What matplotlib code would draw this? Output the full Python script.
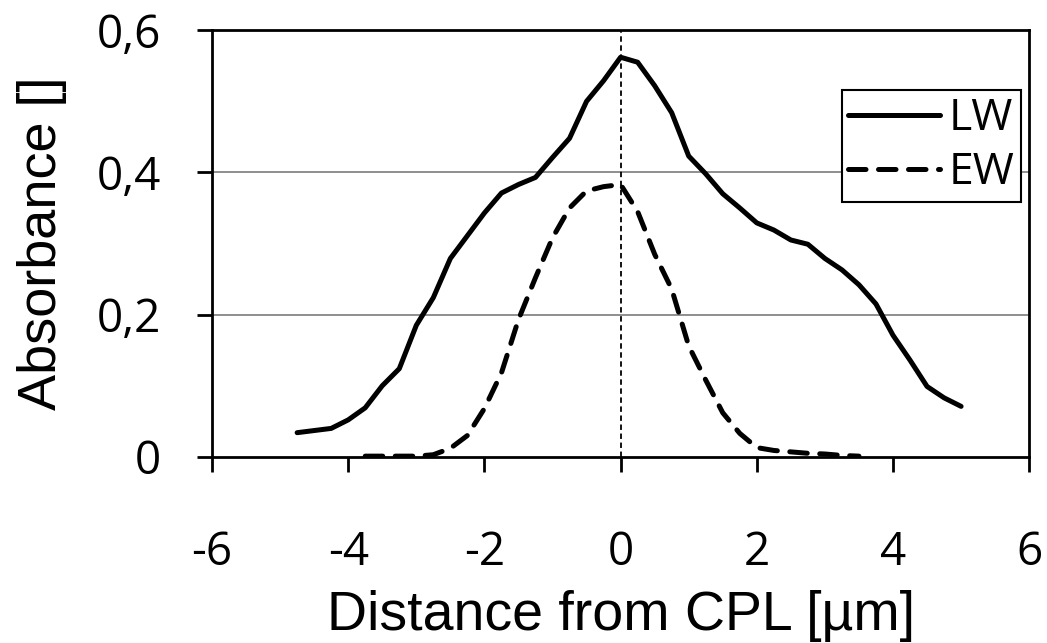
import numpy as np
import matplotlib
matplotlib.use("Agg")
from matplotlib import pyplot as plt

# distances from the CPL [um]
lw_x = [-4.75, -4.25, -4.0, -3.75, -3.5, -3.25, -3.0, -2.75, -2.5, -2.25, -2.0,
        -1.75, -1.5, -1.25, -1.0, -0.75, -0.5, -0.25, 0.0, 0.25, 0.5, 0.75, 1.0,
        1.25, 1.5, 1.75, 2.0, 2.25, 2.5, 2.75, 3.0, 3.25, 3.5, 3.75, 4.0, 4.25,
        4.5, 4.75, 5.0]
lw_y = [0.034, 0.040, 0.052, 0.069, 0.100, 0.124, 0.185, 0.224, 0.279, 0.311, 0.343,
        0.371, 0.383, 0.393, 0.421, 0.448, 0.500, 0.529, 0.562, 0.555, 0.522, 0.484, 0.423,
        0.398, 0.370, 0.350, 0.329, 0.319, 0.305, 0.299, 0.279, 0.263, 0.242, 0.215, 0.171, 0.136,
        0.099, 0.083, 0.071]

ew_x = [-3.75, -3.5, -3.25, -3.0, -2.75, -2.5, -2.25, -2.0, -1.75, -1.5, -1.25,
        -1.0, -0.75, -0.5, -0.25, 0.0, 0.25, 0.5, 0.75, 1.0, 1.25, 1.5, 1.75,
        2.0, 2.25, 2.5, 2.75, 3.0, 3.25, 3.5]
ew_y = [0.001, 0.001, 0.001, 0.001, 0.003, 0.012, 0.030, 0.068, 0.118, 0.193, 0.252,
        0.308, 0.350, 0.374, 0.380, 0.383, 0.345, 0.285, 0.236, 0.156, 0.108, 0.062, 0.033,
        0.013, 0.009, 0.007, 0.005, 0.004, 0.002, 0.001]

x_ticks = [-6, -4, -2, 0, 2, 4, 6]
y_ticks = [0, 0.2, 0.4, 0.6]
y_tick_labels = ["0", "0,2", "0,4", "0,6"]

plt.rcParams["axes.unicode_minus"] = False

fig = plt.figure(figsize=(10.47, 6.43), dpi=100)
ax = fig.add_axes([0.2025, 0.2895, 0.7805, 0.6635])

ax.axhline(0.2, color="#868686", lw=1.3, zorder=1)
ax.axhline(0.4, color="#868686", lw=1.3, zorder=1)
ax.axvline(0, color="black", lw=1.3, dashes=(3, 2), zorder=2)

ax.plot(lw_x, lw_y, color="black", lw=3.6, solid_capstyle="round",
        solid_joinstyle="round", label="LW", zorder=3)
ax.plot(ew_x, ew_y, color="black", lw=3.6, dashes=(3.5, 2.5),
        dash_capstyle="round", label="EW", zorder=3)

ax.set_xlim(-6, 6)
ax.set_ylim(0, 0.6)
ax.set_xticks(x_ticks)
ax.set_xticklabels([str(t) for t in x_ticks])
ax.set_yticks(y_ticks)
ax.set_yticklabels(y_tick_labels)

for s in ax.spines.values():
    s.set_linewidth(2.0)
ax.tick_params(axis="both", direction="out", length=11, width=2.0,
               labelsize=33)
ax.tick_params(axis="x", pad=42)
ax.tick_params(axis="y", pad=26)
for lab in ax.get_xticklabels() + ax.get_yticklabels():
    lab.set_family("Open Sans")

ax.set_xlabel("Distance from CPL [µm]", family="Liberation Sans", fontsize=40,
              labelpad=10)
ax.set_ylabel("Absorbance []", family="Liberation Sans", fontsize=39,
              labelpad=21)

leg = ax.legend(loc="upper right", bbox_to_anchor=(0.99, 0.86),
                prop={"family": "Open Sans", "size": 32}, frameon=True,
                fancybox=False, handlelength=2.05, handletextpad=0.2,
                borderpad=0.15, labelspacing=0.22, borderaxespad=0.0)
leg.get_frame().set_edgecolor("black")
leg.get_frame().set_linewidth(1.5)
leg.get_frame().set_alpha(1.0)

fig.savefig("out.png", dpi=100)
